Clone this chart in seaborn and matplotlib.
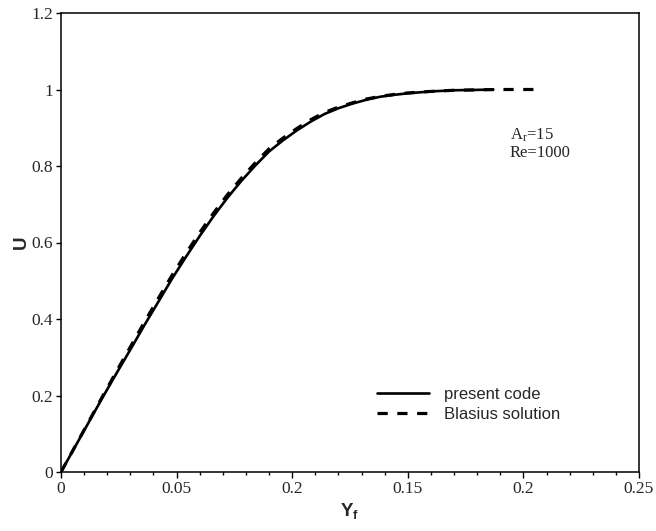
import numpy as np
import pandas as pd
import matplotlib
matplotlib.use("Agg")
import matplotlib.pyplot as plt
import seaborn as sns

# ---- data ----
yf_blasius = [0, 0.006, 0.012, 0.018, 0.024, 0.030, 0.036, 0.042, 0.048, 0.054,
              0.060, 0.066, 0.072, 0.078, 0.084, 0.090, 0.096, 0.102, 0.108, 0.114,
              0.120, 0.126, 0.132, 0.138, 0.144, 0.150, 0.160, 0.170, 0.180, 0.190,
              0.200, 0.206]
u_blasius = [0, 0.066, 0.132, 0.198, 0.263, 0.327, 0.391, 0.453, 0.514, 0.571,
             0.626, 0.677, 0.725, 0.768, 0.808, 0.845, 0.873, 0.898, 0.921, 0.940,
             0.954, 0.965, 0.975, 0.982, 0.987, 0.991, 0.995, 0.998, 0.999, 1.0,
             1.0, 1.0]

yf_present = [0, 0.006, 0.012, 0.018, 0.024, 0.030, 0.036, 0.042, 0.048, 0.054,
              0.060, 0.066, 0.072, 0.078, 0.084, 0.090, 0.096, 0.102, 0.108, 0.114,
              0.120, 0.126, 0.132, 0.138, 0.144, 0.150, 0.160, 0.170, 0.180, 0.187]
u_present = [0, 0.065, 0.130, 0.195, 0.258, 0.320, 0.383, 0.444, 0.505, 0.562,
             0.617, 0.669, 0.717, 0.761, 0.801, 0.838, 0.867, 0.893, 0.916, 0.936,
             0.951, 0.963, 0.973, 0.981, 0.986, 0.990, 0.995, 0.998, 0.999, 1.0]

xtick_vals = [0, 0.05, 0.10, 0.15, 0.20, 0.25]
xtick_labels = ["0", "0.05", "0.2", "0.15", "0.2", "0.25"]
ytick_vals = [0, 0.2, 0.4, 0.6, 0.8, 1.0, 1.2]
ytick_labels = ["0", "0.2", "0.4", "0.6", "0.8", "1", "1.2"]

sns.set_style("ticks")
plt.rcParams["font.family"] = ["Liberation Serif", "DejaVu Serif"]
plt.rcParams["mathtext.fontset"] = "custom"
plt.rcParams["mathtext.rm"] = "Liberation Serif"
plt.rcParams["mathtext.bf"] = "Liberation Sans:bold"
plt.rcParams["mathtext.it"] = "Liberation Serif:italic"

fig = plt.figure(figsize=(6.56, 5.31), dpi=100)
ax = fig.add_axes([61 / 656, 1 - 472 / 531, 578 / 656, 459 / 531])

df_p = pd.DataFrame({"x": yf_present, "u": u_present})
df_b = pd.DataFrame({"x": yf_blasius, "u": u_blasius})

sns.lineplot(data=df_p, x="x", y="u", ax=ax, color="black", lw=1.9,
             label="present code", sort=False)
sns.lineplot(data=df_b, x="x", y="u", ax=ax, color="black", lw=2.3,
             label="Blasius solution", sort=False,
             linestyle=(0, (3.2, 3.0)))

ax.set_xlim(0, 0.25)
ax.set_ylim(0, 1.2)
ax.set_xticks(xtick_vals)
ax.set_xticklabels(xtick_labels)
ax.set_xticks(np.arange(0, 0.2501, 0.01), minor=True)
ax.set_yticks(ytick_vals)
ax.set_yticklabels(ytick_labels)

for s in ax.spines.values():
    s.set_linewidth(1.1)
    s.set_color("black")
ax.tick_params(axis="both", which="major", labelsize=12.5, width=1.0,
               color="black")
ax.tick_params(axis="x", which="major", length=4.2, pad=2.5)
ax.tick_params(axis="y", which="major", length=3.3, pad=2.5)
ax.tick_params(axis="x", which="minor", length=2.0, width=1.0, color="black")

ax.set_xlabel(r"$\mathbf{Y_f}$", fontsize=13.5, labelpad=3)
ax.set_ylabel("U", fontsize=13.5, fontweight="bold", family="Liberation Sans",
              labelpad=1)

ax.text(0.194, 0.858, "A$_\\mathrm{r}$=15\nRe=1000", fontsize=12,
        va="center", ha="left", linespacing=1.05)

leg = ax.legend(loc="lower left", bbox_to_anchor=(0.535, 0.095), frameon=False,
                handlelength=3.1, handletextpad=0.9, labelspacing=0.3,
                borderaxespad=0.0,
                prop={"family": "Liberation Sans", "size": 12})

fig.savefig("out.png", dpi=100)
